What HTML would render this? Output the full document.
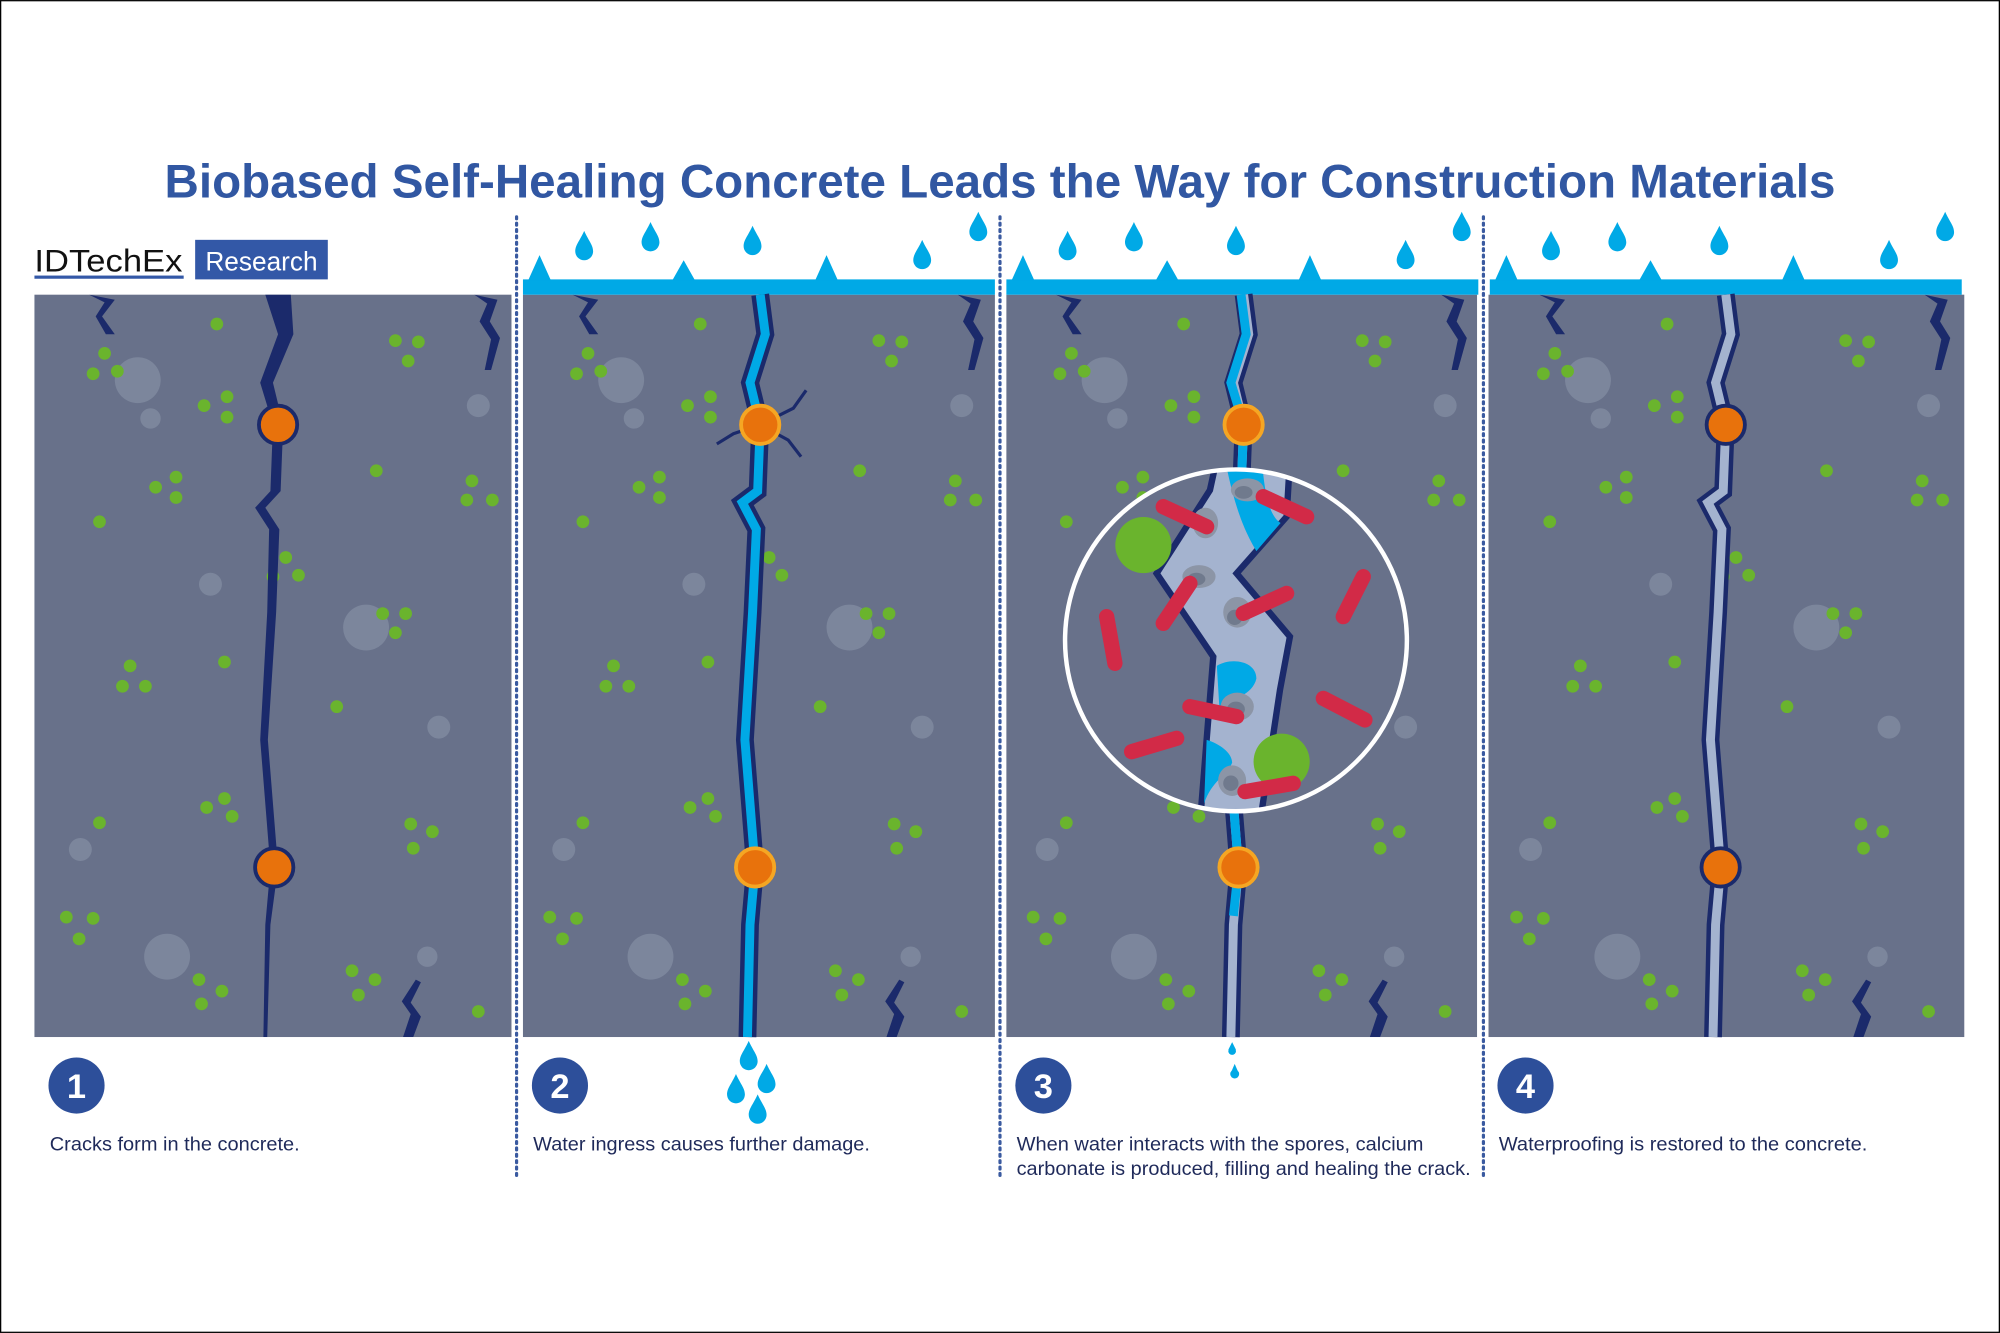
<!DOCTYPE html>
<html><head><meta charset="utf-8"><style>html,body{margin:0;padding:0;background:#fff}svg{display:block}</style></head>
<body>
<svg width="2000" height="1333" viewBox="0 0 1568 1045" xmlns="http://www.w3.org/2000/svg" font-family="Liberation Sans, Arial, sans-serif">
<defs>
<g id="dots">
<g fill="#7c869c">
<circle cx="108" cy="298" r="18"/><circle cx="118" cy="328" r="8"/><circle cx="375" cy="318" r="9"/><circle cx="165" cy="458" r="9"/><circle cx="287" cy="492" r="18"/><circle cx="344" cy="570" r="9"/><circle cx="63" cy="666" r="9"/><circle cx="131" cy="750" r="18"/><circle cx="335" cy="750" r="8"/>
</g>
<g fill="#6ab42d">
<circle cx="82" cy="277" r="5"/><circle cx="73" cy="293" r="5"/><circle cx="92" cy="291" r="5"/><circle cx="170" cy="254" r="5"/>
<circle cx="178" cy="311" r="5"/><circle cx="160" cy="318" r="5"/><circle cx="178" cy="327" r="5"/>
<circle cx="310" cy="267" r="5"/><circle cx="328" cy="268" r="5"/><circle cx="320" cy="283" r="5"/>
<circle cx="122" cy="382" r="5"/><circle cx="138" cy="374" r="5"/><circle cx="138" cy="390" r="5"/><circle cx="78" cy="409" r="5"/><circle cx="295" cy="369" r="5"/>
<circle cx="370" cy="377" r="5"/><circle cx="366" cy="392" r="5"/><circle cx="386" cy="392" r="5"/>
<circle cx="224" cy="437" r="5"/><circle cx="214" cy="452" r="5"/><circle cx="234" cy="451" r="5"/>
<circle cx="300" cy="481" r="5"/><circle cx="318" cy="481" r="5"/><circle cx="310" cy="496" r="5"/>
<circle cx="102" cy="522" r="5"/><circle cx="96" cy="538" r="5"/><circle cx="114" cy="538" r="5"/><circle cx="176" cy="519" r="5"/><circle cx="264" cy="554" r="5"/>
<circle cx="162" cy="633" r="5"/><circle cx="176" cy="626" r="5"/><circle cx="182" cy="640" r="5"/><circle cx="78" cy="645" r="5"/>
<circle cx="322" cy="646" r="5"/><circle cx="339" cy="652" r="5"/><circle cx="324" cy="665" r="5"/>
<circle cx="52" cy="719" r="5"/><circle cx="73" cy="720" r="5"/><circle cx="62" cy="736" r="5"/>
<circle cx="156" cy="768" r="5"/><circle cx="174" cy="777" r="5"/><circle cx="158" cy="787" r="5"/>
<circle cx="276" cy="761" r="5"/><circle cx="294" cy="768" r="5"/><circle cx="281" cy="780" r="5"/><circle cx="375" cy="793" r="5"/>
</g>
<g fill="#1b2a6b">
<polygon points="70,231 90,235 80,248 90,262 83,262 75,248 82,237"/>
<polygon points="372,231 390,235 384,252 392,265 385,290 380,290 385,266 376,252 382,238"/>
<polygon points="316,813 322,795 315,785 326,768 330,770 322,786 330,797 324,813"/>
</g>
</g>
<path id="drop" d="M0,-12 C3,-5 7,-1 7,4 A7,7 0 0 1 -7,4 C-7,-1 -3,-5 0,-12Z" fill="#00a9e6"/>
<g id="rain">
<rect x="410" y="219" width="370" height="12" fill="#00a9e6"/>
<path d="M414,220 L423,200 L432,220Z M527,220 L536,204 L545,220Z M639,220 L648,200 L657,220Z" fill="#00a9e6"/>
<use href="#drop" x="458" y="193"/><use href="#drop" x="510" y="186"/><use href="#drop" x="590" y="189"/><use href="#drop" x="723" y="200"/><use href="#drop" x="767" y="178"/>
</g>
<clipPath id="cc"><circle cx="969" cy="502" r="134"/></clipPath>
</defs>
<rect x="0.5" y="0.5" width="1567" height="1044" fill="#fff" stroke="#000" stroke-width="1"/>
<text x="784" y="155" text-anchor="middle" font-size="37" font-weight="bold" fill="#3157a2" textLength="1310" lengthAdjust="spacingAndGlyphs">Biobased Self-Healing Concrete Leads the Way for Construction Materials</text>
<text x="27" y="213" font-size="25" fill="#111" textLength="116" lengthAdjust="spacingAndGlyphs">IDTechEx</text>
<rect x="27" y="216" width="117" height="2.5" fill="#3358a7"/>
<rect x="153" y="188" width="104" height="31" fill="#3358a7"/>
<text x="205" y="212" font-size="21" fill="#fff" text-anchor="middle" textLength="88" lengthAdjust="spacingAndGlyphs">Research</text>

<rect x="27" y="231" width="374" height="582" fill="#68718a"/>
<rect x="410" y="231" width="370" height="582" fill="#68718a"/>
<rect x="789" y="231" width="369" height="582" fill="#68718a"/>
<rect x="1167" y="231" width="373" height="582" fill="#68718a"/>
<use href="#dots"/>
<use href="#dots" x="379"/><use href="#dots" x="758"/><use href="#dots" x="1137"/>
<use href="#rain"/><use href="#rain" x="379"/><use href="#rain" x="758"/>

<g stroke="#3a5aa0" stroke-width="2.5" stroke-dasharray="1.5 3.5" stroke-linecap="round">
<line x1="405" y1="170" x2="405" y2="925"/><line x1="784" y1="170" x2="784" y2="925"/><line x1="1163" y1="170" x2="1163" y2="925"/>
</g>

<polygon fill="#1b2a6b" points="208,231 218,262 204,300 214,333 212,385 200,398 211,415 209.5,480 204,580 212,680 208,725 206.5,813 209.5,813 212,725 218,680 210,580 216.5,480 219,415 208,398 220,385 222,333 214,300 230,262 228,231"/>
<g fill="#e8720c" stroke="#1b2a6b" stroke-width="3"><circle cx="218" cy="333" r="15"/><circle cx="215" cy="680" r="15"/></g>

<polyline fill="none" stroke="#1b2a6b" stroke-width="14" points="596,231 600,262 588,300 596,333 594,385 582,394 593,415 590,480 584,580 592,680 588,725 586,813"/>
<polyline fill="none" stroke="#00a9e6" stroke-width="7" points="596,231 600,262 588,300 596,333 594,385 582,394 593,415 590,480 584,580 592,680 588,725 586,813"/>
<g stroke="#1b2a6b" stroke-width="2.5" fill="none"><polyline points="596,333 575,340 562,348"/><polyline points="596,333 622,320 632,306"/><polyline points="596,333 618,345 628,358"/></g>
<g fill="#e8720c" stroke="#f5a623" stroke-width="3"><circle cx="596" cy="333" r="15"/><circle cx="592" cy="680" r="15"/></g>
<use href="#drop" x="587" y="828"/><use href="#drop" x="577" y="854"/><use href="#drop" x="601" y="846"/><use href="#drop" x="594" y="870"/>

<polyline fill="none" stroke="#1b2a6b" stroke-width="14" points="975,231 979,262 967,300 975,333 973,385 961,394 972,415 969,480 963,580 971,680 967,725 965,813"/>
<polyline fill="none" stroke="#a4b3cf" stroke-width="7" points="975,231 979,262 967,300 975,333 973,385 961,394 972,415 969,480 963,580 971,680 967,725 965,813"/>
<polyline fill="none" stroke="#00a9e6" stroke-width="7" points="973,231 977,262 965,300 975,333 973,385 961,394 972,415 969,480 963,580 971,680 967,718"/>
<g fill="#e8720c" stroke="#f5a623" stroke-width="3"><circle cx="975" cy="333" r="15"/><circle cx="971" cy="680" r="15"/></g>
<circle cx="968" cy="842" r="3.5" fill="#00a9e6"/><path d="M968,834 L965,841 L971,841Z" fill="#00a9e6"/>
<circle cx="966" cy="824" r="3" fill="#00a9e6"/><path d="M966,817 L963,823 L969,823Z" fill="#00a9e6"/>

<circle cx="969" cy="502" r="134" fill="#68718a"/>
<g clip-path="url(#cc)">
<g fill="#6ab42d"><circle cx="880" cy="395" r="5"/><circle cx="896" cy="385" r="5"/><circle cx="1050" cy="385" r="5"/></g>
<polygon points="953.9,360 948.6,384.2 930.3,412.9 906.8,449.5 951.2,514.8 940.8,645 987.8,645 1003.5,540.9 1011.3,499.1 969.5,449.5 1008.7,405.1 1011.3,360" fill="#a4b3cf" stroke="#1b2a6b" stroke-width="5"/>
<path d="M962,368 L990,368 C992,390 996,405 1004,410 L985,432 C978,420 970,405 962,368Z" fill="#00a9e6"/>
<path d="M954,522 C965,515 985,518 985,532 C982,545 966,548 956,555Z" fill="#00a9e6"/>
<path d="M946,580 C956,583 966,590 966,598 C962,608 950,612 944,630Z" fill="#00a9e6"/>
<g fill="#8c95a6"><ellipse cx="978" cy="384" rx="13" ry="9"/><ellipse cx="945" cy="410" rx="10" ry="12"/><ellipse cx="940" cy="452" rx="13" ry="9"/><ellipse cx="970" cy="480" rx="11" ry="12"/><ellipse cx="970" cy="554" rx="13" ry="11"/><ellipse cx="966" cy="612" rx="11" ry="12"/></g>
<g fill="#707a8d"><ellipse cx="975" cy="386" rx="7" ry="5"/><ellipse cx="946" cy="413" rx="5" ry="6"/><ellipse cx="938" cy="454" rx="7" ry="5"/><ellipse cx="968" cy="484" rx="6" ry="6"/><ellipse cx="969" cy="556" rx="7" ry="6"/><ellipse cx="965" cy="614" rx="6" ry="6"/></g>
<g fill="#6ab42d"><circle cx="896.4" cy="427.3" r="22"/><circle cx="1004.8" cy="597.1" r="22"/></g>
<g stroke="#d22a47" stroke-width="12" stroke-linecap="round">
<line x1="912" y1="397.2" x2="946" y2="412.9"/><line x1="990.4" y1="389.4" x2="1024.4" y2="405.1"/><line x1="912" y1="488.7" x2="932.9" y2="457.3"/><line x1="974.7" y1="480.8" x2="1008.7" y2="465.2"/><line x1="1053.1" y1="483.4" x2="1068.8" y2="452.1"/><line x1="867.6" y1="483.4" x2="874.1" y2="520"/><line x1="932.9" y1="554" x2="969.5" y2="561.8"/><line x1="1037.5" y1="547.5" x2="1070.1" y2="564.4"/><line x1="887.2" y1="589.3" x2="922.5" y2="578.8"/><line x1="976.1" y1="620.6" x2="1013.9" y2="614.1"/>
</g>
</g>
<circle cx="969" cy="502" r="134" fill="none" stroke="#fff" stroke-width="3.5"/>

<polyline fill="none" stroke="#1b2a6b" stroke-width="14" points="1353,231 1357,262 1345,300 1353,333 1351,385 1339,394 1350,415 1347,480 1341,580 1349,680 1345,725 1343,813"/>
<polyline fill="none" stroke="#a4b3cf" stroke-width="7" points="1353,231 1357,262 1345,300 1353,333 1351,385 1339,394 1350,415 1347,480 1341,580 1349,680 1345,725 1343,813"/>
<g fill="#e8720c" stroke="#1b2a6b" stroke-width="3"><circle cx="1353" cy="333" r="15"/><circle cx="1349" cy="680" r="15"/></g>

<g fill="#2d4f9a"><circle cx="60" cy="851" r="22"/><circle cx="439" cy="851" r="22"/><circle cx="818" cy="851" r="22"/><circle cx="1196" cy="851" r="22"/></g>
<g fill="#fff" font-size="27" font-weight="bold" text-anchor="middle"><text x="60" y="861">1</text><text x="439" y="861">2</text><text x="818" y="861">3</text><text x="1196" y="861">4</text></g>
<g fill="#1f2a5a" font-size="15.5">
<text x="39" y="902" textLength="196" lengthAdjust="spacingAndGlyphs">Cracks form in the concrete.</text>
<text x="418" y="902" textLength="264" lengthAdjust="spacingAndGlyphs">Water ingress causes further damage.</text>
<text x="797" y="902" textLength="319" lengthAdjust="spacingAndGlyphs">When water interacts with the spores, calcium</text>
<text x="797" y="921" textLength="356" lengthAdjust="spacingAndGlyphs">carbonate is produced, filling and healing the crack.</text>
<text x="1175" y="902" textLength="289" lengthAdjust="spacingAndGlyphs">Waterproofing is restored to the concrete.</text>
</g>
</svg>
</body></html>
